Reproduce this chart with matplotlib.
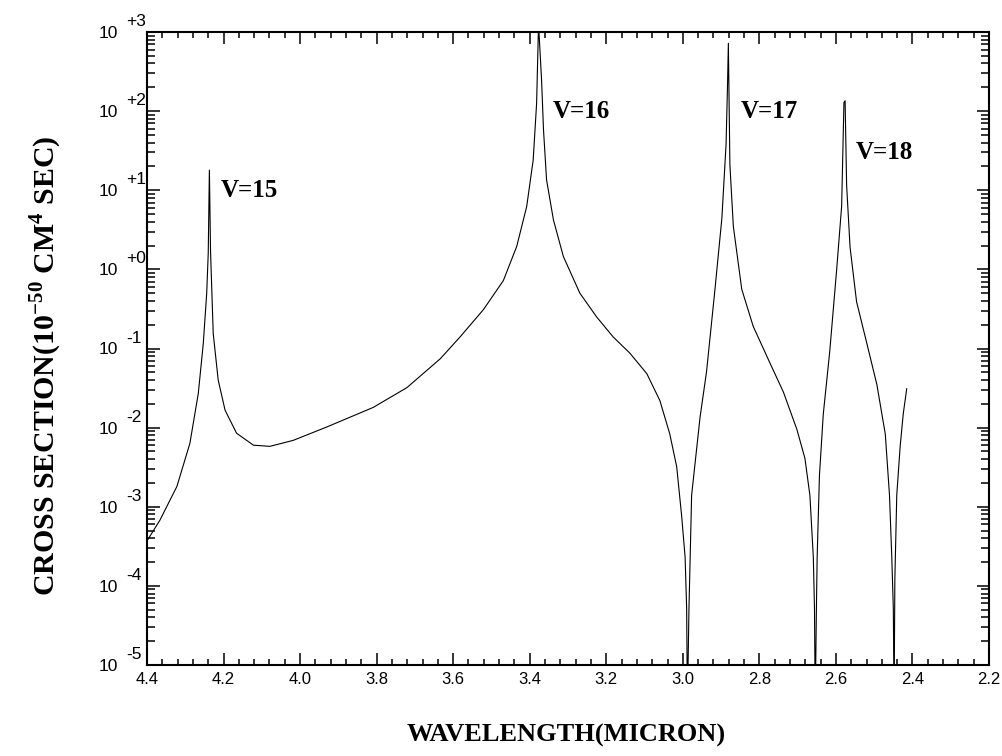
import matplotlib
matplotlib.use("Agg")
import matplotlib.pyplot as plt
from matplotlib.ticker import MultipleLocator, LogLocator, NullFormatter, FormatStrFormatter

# wavelength (micron) and cross section (1e-50 cm^4 s)
wavelength = [
    4.400, 4.366, 4.322, 4.288, 4.266, 4.253, 4.244, 4.240, 4.237, 4.234,
    4.227, 4.214, 4.196, 4.166, 4.122, 4.079, 4.018, 3.930, 3.809, 3.721,
    3.634, 3.582, 3.521, 3.469, 3.434, 3.408, 3.391, 3.382, 3.377, 3.369,
    3.364, 3.356, 3.338, 3.312, 3.269, 3.225, 3.182, 3.138, 3.094, 3.060,
    3.034, 3.016, 3.003, 2.994, 2.990, 2.988, 2.984, 2.977, 2.955, 2.938,
    2.916, 2.898, 2.887, 2.883, 2.881, 2.877, 2.868, 2.846, 2.816, 2.772,
    2.737, 2.702, 2.681, 2.668, 2.659, 2.656, 2.654, 2.651, 2.649, 2.643,
    2.633, 2.616, 2.598, 2.585, 2.579, 2.576, 2.572, 2.563, 2.546, 2.519,
    2.493, 2.471, 2.460, 2.454, 2.450, 2.448, 2.446, 2.441, 2.432, 2.424,
    2.415,
]
cross_section = [
    3.7e-4, 6.8e-4, 1.8e-3, 6.3e-3, 2.7e-2, 0.115, 0.50, 1.6, 18, 1.7,
    0.155, 0.040, 0.0166, 0.0085, 0.0060, 0.0058, 0.0069, 0.0102, 0.018, 0.032,
    0.074, 0.14, 0.31, 0.72, 1.95, 6.2, 24, 126, 1260, 245,
    58, 13.5, 4.2, 1.45, 0.50, 0.25, 0.14, 0.087, 0.048, 0.022,
    0.0083, 0.0032, 7.6e-4, 2.3e-4, 5.2e-5, 3e-6, 5e-5, 1.4e-3, 0.0135, 0.051,
    0.56, 4.4, 38, 234, 720, 21, 3.5, 0.56, 0.19, 0.065,
    0.028, 0.0095, 0.0041, 1.4e-3, 2.3e-4, 5.2e-5, 3e-6, 5e-5, 2.3e-4, 2.5e-3,
    0.0148, 0.093, 1.0, 6.3, 129, 135, 11.5, 1.9, 0.39, 0.115,
    0.035, 0.0083, 1.4e-3, 2.3e-4, 5.2e-5, 3e-6, 1.2e-4, 1.4e-3, 5.9e-3, 0.015,
    0.031,
]

peak_labels = ["V=15", "V=16", "V=17", "V=18"]
peak_label_x = [4.206, 3.339, 2.849, 2.549]
peak_label_y = [10, 100, 100, 30]

decades = [-5, -4, -3, -2, -1, 0, 1, 2, 3]
decade_text = ["-5", "-4", "-3", "-2", "-1", "+0", "+1", "+2", "+3"]

W, H = 1003, 756
fig = plt.figure(figsize=(W / 100, H / 100), dpi=100)
ax = fig.add_axes([147 / W, 1 - 665 / H, 842 / W, 633 / H])

ax.plot(wavelength, cross_section, color="black", lw=0.8)

ax.set_xlim(4.4, 2.2)
ax.set_yscale("log")
ax.set_ylim(1e-5, 1e3)

ax.xaxis.set_major_locator(MultipleLocator(0.2))
ax.xaxis.set_minor_locator(MultipleLocator(0.04))
ax.xaxis.set_major_formatter(FormatStrFormatter("%.1f"))
ax.yaxis.set_major_locator(LogLocator(base=10, numticks=20))
ax.yaxis.set_minor_locator(LogLocator(base=10, subs=range(2, 10), numticks=20))
ax.yaxis.set_major_formatter(NullFormatter())
ax.yaxis.set_minor_formatter(NullFormatter())

ax.tick_params(axis="both", which="both", direction="in", top=True, right=True, width=1.1)
ax.tick_params(axis="x", which="major", length=8.5, pad=5, labelsize=12)
ax.tick_params(axis="x", which="minor", length=4.5)
ax.tick_params(axis="y", which="major", length=9)
ax.tick_params(axis="y", which="minor", length=6)
for lbl in ax.get_xticklabels():
    lbl.set_family("Liberation Sans")
for sp in ax.spines.values():
    sp.set_linewidth(1.5)

# y tick labels drawn as "10" with a full-size exponent, like the original
for d, t in zip(decades, decade_text):
    ax.annotate("10", xy=(0, 10.0 ** d), xycoords=("axes fraction", "data"),
                xytext=(-21, -1), textcoords="offset points",
                ha="right", va="center", fontsize=12.5, family="Liberation Sans")
    ax.annotate(t, xy=(0, 10.0 ** d), xycoords=("axes fraction", "data"),
                xytext=(-15, 7.5), textcoords="offset points",
                ha="left", va="center", fontsize=12.5, family="Liberation Sans")

for txt, x, y in zip(peak_labels, peak_label_x, peak_label_y):
    ax.text(x, y, txt, ha="left", va="center", fontsize=18,
            family="Liberation Serif", weight="bold")

plt.rcParams["mathtext.fontset"] = "custom"
plt.rcParams["mathtext.bf"] = "Liberation Serif:bold"
plt.rcParams["mathtext.rm"] = "Liberation Serif:bold"

fig.text(566 / W, 1 - 735 / H, "WAVELENGTH(MICRON)", ha="center", va="center",
         fontsize=19, family="Liberation Serif", weight="bold")
fig.text(46 / W, 1 - 366 / H, r"CROSS SECTION(10$^{\mathbf{-50}}$ CM$^{\mathbf{4}}$ SEC)",
         ha="center", va="center", rotation=90, fontsize=21.5,
         family="Liberation Serif", weight="bold")

fig.savefig("out.png", dpi=100)
